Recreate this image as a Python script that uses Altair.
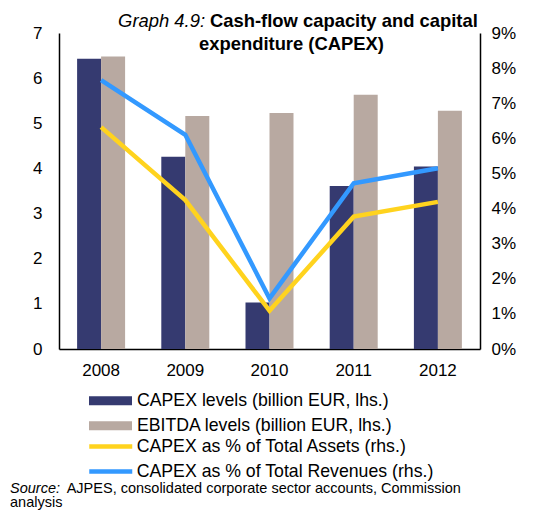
import altair as alt
import pandas as pd

years = ["2008", "2009", "2010", "2011", "2012"]
capex = [6.43, 4.26, 1.03, 3.61, 4.04]
ebitda = [6.48, 5.16, 5.23, 5.63, 5.28]
pct_assets = [6.32, 4.24, 1.09, 3.77, 4.19]
pct_revenues = [7.66, 6.10, 1.44, 4.72, 5.15]

bar_names = ["CAPEX levels (billion EUR, lhs.)", "EBITDA levels (billion EUR, lhs.)"]
line_names = ["CAPEX as % of Total Assets (rhs.)", "CAPEX as % of Total Revenues (rhs.)"]
bar_colors = ["#353A70", "#B8A9A1"]
line_colors = ["#FFD31E", "#3399FF"]

FONT = "Liberation Sans"

bars_df = pd.DataFrame(
    [{"year": y, "series": bar_names[0], "value": v} for y, v in zip(years, capex)]
    + [{"year": y, "series": bar_names[1], "value": v} for y, v in zip(years, ebitda)]
)
lines_df = pd.DataFrame(
    [{"year": y, "series": line_names[0], "value": v} for y, v in zip(years, pct_assets)]
    + [{"year": y, "series": line_names[1], "value": v} for y, v in zip(years, pct_revenues)]
)

xscale = alt.Scale(domain=years, paddingInner=0.43, paddingOuter=0.215)
xaxis = alt.Axis(title=None, labelAngle=0, ticks=False, tickSize=0, labelPadding=13,
                 labelFontSize=17, labelFont=FONT, labelColor="black",
                 domainColor="black", domainWidth=1.5, grid=False)

bars = alt.Chart(bars_df).mark_bar().encode(
    x=alt.X("year:N", scale=xscale, axis=xaxis),
    xOffset=alt.XOffset("series:N", scale=alt.Scale(domain=bar_names, paddingInner=0, paddingOuter=0)),
    y=alt.Y("value:Q", scale=alt.Scale(domain=[0, 7], nice=False),
            axis=alt.Axis(title=None, values=list(range(8)), ticks=False, tickSize=0,
                          labelPadding=17, labelFontSize=17, labelFont=FONT, labelColor="black",
                          domainColor="black", domainWidth=1.5, grid=False, orient="left")),
    fill=alt.Fill("series:N", scale=alt.Scale(domain=bar_names, range=bar_colors),
                  legend=alt.Legend(title=None, orient="none", legendX=30, legendY=359.7,
                                    symbolType="M-1,-0.21H1V0.21H-1Z", symbolSize=1849,
                                    clipHeight=16, rowPadding=7, labelOffset=5,
                                    labelFontSize=17.7, labelFont=FONT, labelColor="black",
                                    symbolStrokeWidth=0, labelLimit=600, padding=0,
                                    symbolOpacity=1)),
)

lines = alt.Chart(lines_df).mark_line(strokeWidth=4.5).encode(
    x=alt.X("year:N", scale=xscale, axis=xaxis),
    y=alt.Y("value:Q", scale=alt.Scale(domain=[0, 9], nice=False),
            axis=alt.Axis(title=None, values=list(range(10)), ticks=False, tickSize=0,
                          labelPadding=11, labelFontSize=17, labelFont=FONT, labelColor="black",
                          labelExpr="datum.value + '%'",
                          domainColor="black", domainWidth=1.5, grid=False, orient="right")),
    stroke=alt.Stroke("series:N", scale=alt.Scale(domain=line_names, range=line_colors),
                      legend=alt.Legend(title=None, orient="none", legendX=27.75, legendY=405.5,
                                        symbolType="stroke", symbolSize=1849,
                                        clipHeight=16, rowPadding=7, labelOffset=2,
                                        labelFontSize=17.7, labelFont=FONT, labelColor="black",
                                        symbolStrokeWidth=4.5, labelLimit=600, padding=0)),
)

def txt(s, x, y, align="left", size=18, weight="normal", style="normal"):
    return alt.Chart(pd.DataFrame({"t": [s]})).mark_text(
        align=align, baseline="alphabetic", fontSize=size, font=FONT,
        fontWeight=weight, fontStyle=style, color="black"
    ).encode(text="t:N", x=alt.value(x), y=alt.value(y))

title_a = txt("Graph 4.9:", 146, -6, align="right", size=18.4, style="italic")
title_b = txt("Cash-flow capacity and capital", 151, -6, size=18.4, weight="bold")
title_c = txt("expenditure (CAPEX)", 232.5, 17, align="center", size=18.4, weight="bold")
src_a = txt("Source:", -49, 459.5, size=14.5, style="italic")
src_b = txt("AJPES, consolidated corporate sector accounts, Commission", 7.7, 459.5, size=14.5)
src_c = txt("analysis", -49, 474, size=14.5)

chart = alt.layer(bars, lines, title_a, title_b, title_c, src_a, src_b, src_c).resolve_scale(
    y="independent", fill="independent", stroke="independent"
).properties(
    width=421, height=316,
    autosize=alt.AutoSizeParams(type="none"),
    padding={"left": 51, "top": 25, "right": 50, "bottom": 162},
).configure_view(stroke=None)

chart.save("out.html", embed_options={"renderer": "svg", "actions": False})
